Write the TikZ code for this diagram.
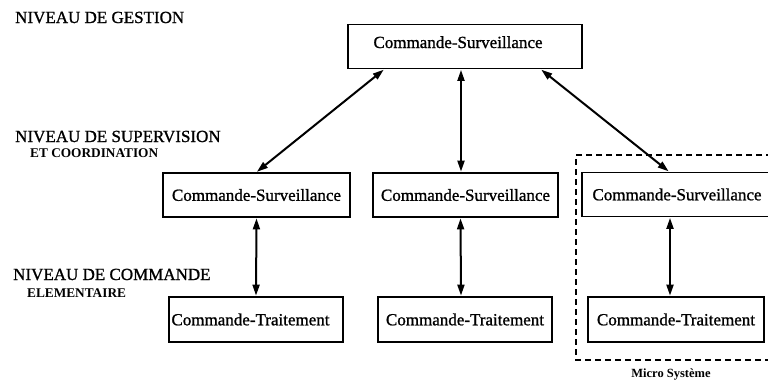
\documentclass[tikz,border=0pt]{standalone}
\usepackage{fontspec}
\setmainfont{Liberation Serif}
\newfontfamily\heavyserif{Liberation Serif}[FakeBold=1.1]
\usetikzlibrary{arrows.meta}
\begin{document}
\begin{tikzpicture}[x=1pt,y=-1pt,
  box/.style={draw, line width=1.8pt, minimum height=44pt, inner sep=0pt,
    font=\heavyserif\fontsize{17}{20}\selectfont},
  link/.style={line width=2pt, {Triangle[length=11pt,width=7pt]}-{Triangle[length=11pt,width=7pt]}, shorten <=0.5pt, shorten >=0.5pt},
  levelbig/.style={anchor=base west, inner sep=0pt, font=\heavyserif\fontsize{17}{20}\selectfont},
  levelsmall/.style={anchor=base west, inner sep=0pt, font=\fontsize{13.3}{16}\selectfont\bfseries},
  frame/.style={line width=1.6pt, dash pattern=on 6pt off 4pt}]
\useasboundingbox (0,0) rectangle (768,383);

% level captions on the left
\node[levelbig]   (lg)  at (15,23)  {NIVEAU DE GESTION};
\node[levelbig]   (ls)  at (15,142) {NIVEAU DE SUPERVISION};
\node[levelsmall] (ls2) at (30,157) {ET COORDINATION};
\node[levelbig]   (lc)  at (13,280) {NIVEAU DE COMMANDE};
\node[levelsmall] (lc2) at (27,297) {ELEMENTAIRE};

% dashed frame of the micro system
\draw[frame] (772,155) -- (576,155) -- (576,360) -- (772,360);
\node[anchor=base, inner sep=0pt, font=\fontsize{12.5}{14}\selectfont\bfseries] (ms) at (671,377) {Micro Système};

% management level
\node[box, minimum width=234pt, text height=9pt, text depth=6pt] (T) at (465,46.5) {\hspace*{-14pt}Commande-Surveillance};

% supervision level
\node[box, minimum width=187pt] (ML) at (256.5,195) {Commande-Surveillance};
\node[box, minimum width=185pt] (MM) at (465.5,195) {Commande-Surveillance};
\node[box, minimum width=190pt] (MR) at (677,194.5) {Commande-Surveillance};

% elementary control level
\node[box, minimum width=174pt, minimum height=45pt] (BL) at (256,319.5) {\hspace*{-11pt}Commande-Traitement};
\node[box, minimum width=174pt, minimum height=45pt] (BM) at (465,319.5) {Commande-Traitement};
\node[box, minimum width=176pt, minimum height=45pt] (BR) at (676,319.5) {Commande-Traitement};

% exchanges between levels
\draw[link] ([xshift=37pt]T.south west) -- (ML.north);
\draw[link] ([xshift=-4pt]T.south) -- ([xshift=-4.5pt]MM.north);
\draw[link] ([xshift=-42pt]T.south east) -- ([xshift=-8pt]MR.north);
\draw[link] (ML.south) -- (BL.north);
\draw[link] ([xshift=-5pt]MM.south) -- ([xshift=-4pt]BM.north);
\draw[link] ([xshift=-7pt]MR.south) -- ([xshift=-6pt]BR.north);
\end{tikzpicture}
\end{document}
